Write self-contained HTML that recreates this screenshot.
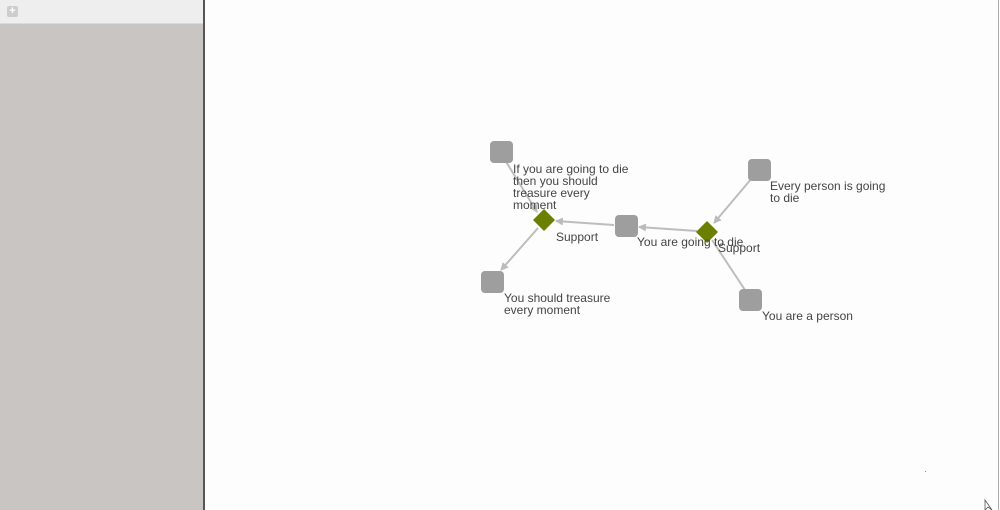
<!DOCTYPE html>
<html><head><style>
body{margin:0;width:1000px;height:510px;overflow:hidden;background:#fdfdfd;font-family:"Liberation Sans",sans-serif;position:relative}
#left{position:absolute;left:0;top:0;width:203px;height:510px;background:#c9c5c2}
#top{position:absolute;left:0;top:0;width:203px;height:23px;background:#efeeee;border-bottom:1px solid #dcdad8}
#plus{position:absolute;left:7px;top:6px;width:11px;height:11px;background:#cfcdcb;border-radius:2px;color:#fff;font-size:11px;line-height:11px;text-align:center;font-weight:bold}
#bar{position:absolute;left:203px;top:0;width:2px;height:510px;background:#555}
#rb{position:absolute;left:998px;top:0;width:1px;height:510px;background:#aaa}
</style></head><body>
<div id="left"><div id="top"><div id="plus">+</div></div></div>
<div id="bar"></div><div id="rb"></div>
<svg width="1000" height="510" style="position:absolute;left:0;top:0">
<defs><marker id="a" markerWidth="8" markerHeight="8" refX="7" refY="4" orient="auto" markerUnits="userSpaceOnUse"><path d="M0,0 L8,4 L0,8 z" fill="#bbb"/></marker></defs>
<g stroke="#bdbdbd" stroke-width="2" fill="none">
<line x1="505" y1="160" x2="537" y2="212" marker-end="url(#a)"/>
<line x1="614" y1="225" x2="556" y2="221" marker-end="url(#a)"/>
<line x1="538" y1="228" x2="501" y2="270" marker-end="url(#a)"/>
<line x1="697" y1="231" x2="639" y2="227" marker-end="url(#a)"/>
<line x1="752" y1="178" x2="714" y2="223" marker-end="url(#a)"/>
<line x1="745" y1="290" x2="712" y2="240"/>
</g>
<g fill="#9e9e9e">
<rect x="490" y="141" width="23" height="22" rx="4"/>
<rect x="615" y="215" width="23" height="22" rx="4"/>
<rect x="481" y="271" width="23" height="22" rx="4"/>
<rect x="748" y="159" width="23" height="22" rx="4"/>
<rect x="739" y="289" width="23" height="22" rx="4"/>
</g>
<g fill="#6b8000">
<path d="M544,209 L555,220 L544,231 L533,220 z"/>
<path d="M707,221 L718,232 L707,243 L696,232 z"/>
</g>
<g font-size="12" fill="#444">
<text x="513" y="173">If you are going to die</text>
<text x="513" y="185">then you should</text>
<text x="513" y="197">treasure every</text>
<text x="513" y="209">moment</text>
<text x="556" y="241">Support</text>
<text x="637" y="246">You are going to die</text>
<text x="718" y="252">Support</text>
<text x="770" y="190">Every person is going</text>
<text x="770" y="202">to die</text>
<text x="504" y="302">You should treasure</text>
<text x="504" y="314">every moment</text>
<text x="762" y="320">You are a person</text>
</g>
<rect x="925" y="471" width="1" height="1" fill="#888"/>
<path d="M985,500 L985,510 L988,507 L992,510 z" fill="#fff" stroke="#555" stroke-width="0.8"/>
</svg>
</body></html>
